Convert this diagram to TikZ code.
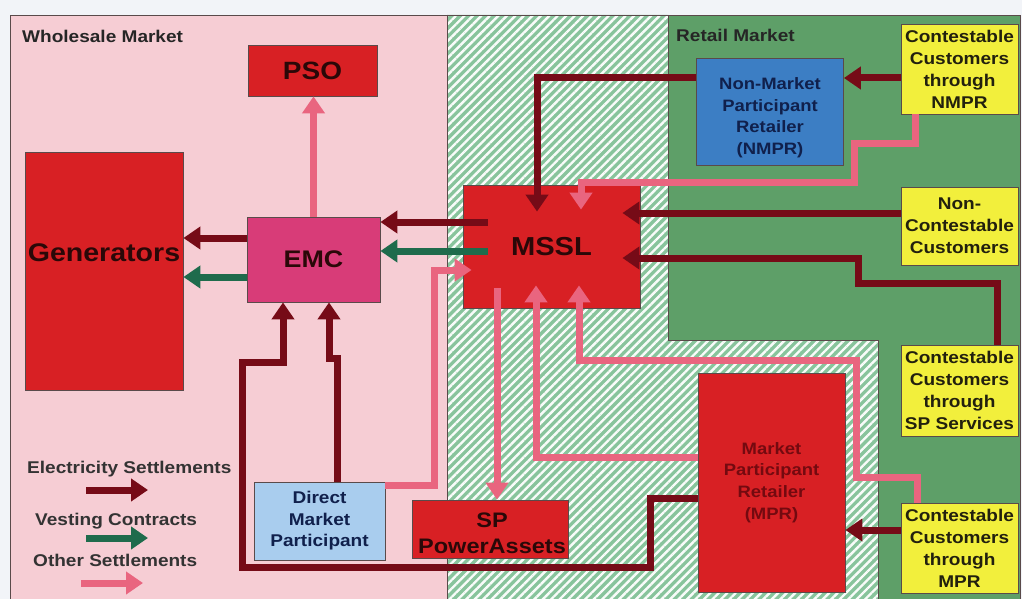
\documentclass[tikz,border=0pt]{standalone}
\usepackage{fontspec}
\setmainfont{Liberation Sans}[FakeStretch=1.12]
\usetikzlibrary{arrows.meta,patterns.meta}
\definecolor{cTop}{HTML}{F2F4F8}
\definecolor{cPink}{HTML}{F6CDD4}
\definecolor{cHatch}{HTML}{88C49C}
\definecolor{cGreen}{HTML}{5E9F68}
\definecolor{cRed}{HTML}{D82024}
\definecolor{cEMC}{HTML}{D83C78}
\definecolor{cBlue}{HTML}{3C7EC4}
\definecolor{cLBlue}{HTML}{A9CDEE}
\definecolor{cYellow}{HTML}{F2EF3C}
\definecolor{cElec}{HTML}{760B17}
\definecolor{cVest}{HTML}{1F6B4C}
\definecolor{cOther}{HTML}{E9657F}
\definecolor{cDark}{HTML}{2A0808}
\definecolor{cNavy}{HTML}{10204C}
\definecolor{cMPRtxt}{HTML}{740A10}
\definecolor{cYtxt}{HTML}{22200E}
\definecolor{cLine}{HTML}{5A4A4A}
\newcommand{\myfs}[2]{\fontsize{#1}{#2}\selectfont\bfseries}
\begin{document}
\begin{tikzpicture}[x=1pt,y=-1pt,
  box/.style={draw=cLine,line width=0.8pt,inner sep=0pt,align=center},
  redbox/.style={box,fill=cRed,text=cDark},
  emcbox/.style={box,fill=cEMC,text=cDark},
  bluebox/.style={box,fill=cBlue,text=cNavy},
  lbluebox/.style={box,fill=cLBlue,text=cNavy},
  ybox/.style={box,fill=cYellow,text=cYtxt,minimum width=117pt,font=\myfs{17}{22}},
  region/.style={anchor=west,inner sep=0pt,text=black!85,font=\myfs{17}{20}},
  legtxt/.style={inner sep=0pt,text=black!80,font=\myfs{17}{20}},
  tipst/.style={-{Triangle[width=22pt,length=17pt]}},
  elec/.style={draw=cElec,line width=7pt,tipst},
  vest/.style={draw=cVest,line width=7pt,tipst},
  other/.style={draw=cOther,line width=7pt,tipst}]
\useasboundingbox (0,0) rectangle (1022,599);
% background and regions
\fill[cTop] (0,0) rectangle (1022,599);
\fill[cPink] (10,15) rectangle (447,599);
\fill[cGreen] (668,15) rectangle (1020,599);
\fill[cHatch] (447,15) -- (668,15) -- (668,340) -- (878,340) -- (878,599) -- (447,599) -- cycle;
\fill[pattern={Lines[angle=45,distance=6pt,line width=2.4pt]},pattern color=white!95!cHatch]
  (447,15) -- (668,15) -- (668,340) -- (878,340) -- (878,599) -- (447,599) -- cycle;
\draw[cLine,line width=0.8pt] (447,15) -- (447,599);
\draw[cLine,line width=0.8pt] (668,15) -- (668,340) -- (878,340) -- (878,599);
\draw[cLine,line width=0.8pt] (10,599) -- (10,15) -- (1020,15) -- (1020,599);
\node[region] (wlbl) at (22,36) {Wholesale Market};
\node[region] (rlbl) at (676,35) {Retail Market};
% nodes
\node[redbox,minimum width=129pt,minimum height=51pt,font=\myfs{25}{28}] (PSO) at (312.5,70.5) {PSO};
\node[redbox,minimum width=158pt,minimum height=238pt,
  label={[text=cDark,font=\myfs{25.5}{28},yshift=18pt]center:Generators}] (GEN) at (104,271) {};
\node[emcbox,minimum width=133pt,minimum height=85pt,font=\myfs{24}{28}] (EMC) at (313.5,259.5) {EMC};
\node[redbox,minimum width=177pt,minimum height=123pt,font=\myfs{26}{30}] (MSSL) at (551.5,246.5) {MSSL};
\node[bluebox,minimum width=147pt,minimum height=107pt,
  label={[text=cNavy,align=center,font=\myfs{16.5}{21.5},yshift=-6pt]center:Non-Market\\Participant\\Retailer\\(NMPR)}] (NMPR) at (770,111.5) {};
\node[ybox,minimum height=90pt] (CCN) at (959.5,69) {Contestable\\Customers\\through\\NMPR};
\node[ybox,minimum height=78pt] (NCC) at (959.5,226) {Non-\\Contestable\\Customers};
\node[ybox,minimum height=91pt] (CCSP) at (959.5,390.5) {Contestable\\Customers\\through\\SP Services};
\node[ybox,minimum height=90pt] (CCMPR) at (959.5,548) {Contestable\\Customers\\through\\MPR};
\node[redbox,text=cMPRtxt,minimum width=147pt,minimum height=219pt,font=\myfs{16.5}{21.7}] (MPR) at (771.5,482.5) {Market\\Participant\\Retailer\\(MPR)};
\node[redbox,minimum width=156pt,minimum height=58pt,
  label={[text=cDark,align=center,font=\myfs{21}{26},xshift=2pt,yshift=-4pt]center:SP\\PowerAssets}] (SPPA) at (490,529) {};
\node[lbluebox,minimum width=131pt,minimum height=78pt,font=\myfs{17}{21.5}] (DMP) at (319.5,521) {Direct\\Market\\Participant};
% legend
\node[legtxt,anchor=west] (legE) at (27,469) {Electricity Settlements};
\node[legtxt,anchor=west] (legV) at (35,521) {Vesting Contracts};
\node[legtxt,anchor=west] (legO) at (33,560) {Other Settlements};
\coordinate (le1) at (86,490); \coordinate (le2) at (148,490);
\coordinate (lv1) at (86,538); \coordinate (lv2) at (148,538);
\coordinate (lo1) at (81,583); \coordinate (lo2) at (143,583);
\draw[elec] (le1) -- (le2);
\draw[vest] (lv1) -- (lv2);
\draw[other] (lo1) -- (lo2);
% connectors
\draw[other] (EMC.north) -- (EMC.north |- PSO.south);
\draw[elec,shorten <=-25pt] (MSSL.west |- 0,222) -- (EMC.east |- 0,222);
\draw[vest,shorten <=-25pt] (MSSL.west |- 0,251) -- (EMC.east |- 0,251);
\draw[elec] (EMC.west |- 0,238) -- (GEN.east |- 0,238);
\draw[vest] (EMC.west |- 0,277) -- (GEN.east |- 0,277);
\draw[elec] (DMP.north -| 337,0) -- (337,358) -- (329,358) -- (EMC.south -| 329,0);
\draw[elec] (MPR.west |- 0,498) -- (650,498) -- (650,567) -- (242,567) -- (242,362) -- (283,362) -- (EMC.south -| 283,0);
\draw[other,shorten >=-9pt] (DMP.east |- 0,485) -- (434,485) -- (434,270) -- (MSSL.west |- 0,270);
\draw[other,shorten <=-20pt] (MSSL.south -| 497,0) -- (SPPA.north -| 497,0);
\draw[other,shorten >=-23pt] (MPR.west |- 0,457) -- (536,457) -- (MSSL.south -| 536,0);
\draw[other,shorten >=-23pt] (CCMPR.north -| 917,0) -- (917,477) -- (856,477) -- (856,360) -- (579,360) -- (MSSL.south -| 579,0);
\draw[other,shorten >=-25pt] (CCN.south -| 915,0) -- (915,143) -- (854,143) -- (854,182) -- (581,182) -- (MSSL.north -| 581,0);
\draw[elec,shorten >=-27pt] (NMPR.west |- 0,78) -- (537,78) -- (MSSL.north -| 537,0);
\draw[elec] (CCN.west |- 0,78) -- (NMPR.east |- 0,78);
\draw[elec,shorten >=-18pt] (NCC.west |- 0,213) -- (MSSL.east |- 0,213);
\draw[elec,shorten >=-18pt] (CCSP.north -| 997,0) -- (997,283) -- (858,283) -- (858,258) -- (MSSL.east |- 0,258);
\draw[elec] (CCMPR.west |- 0,530) -- (MPR.east |- 0,530);
\end{tikzpicture}
\end{document}
